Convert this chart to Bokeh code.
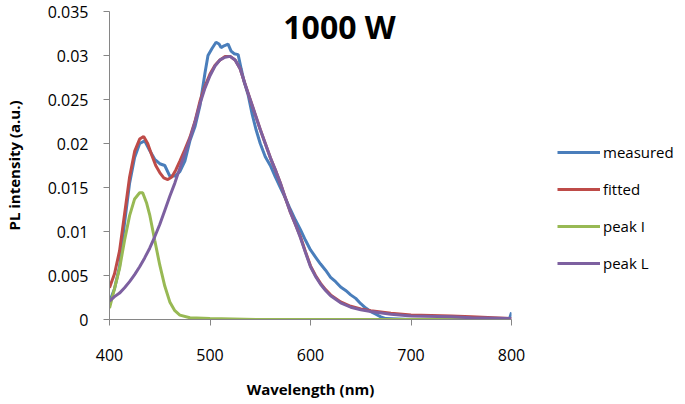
from bokeh.plotting import figure
from bokeh.layouts import row
from bokeh.models import (Range1d, FixedTicker, CustomJSTickFormatter, Label,
                          Legend, LegendItem)
from bokeh.embed import file_html
from bokeh.resources import INLINE

# ---- data ----
wl_meas = [400, 405, 410, 415, 420, 425, 430, 435, 440, 445, 450, 455, 460, 465,
           470, 475, 480, 485, 490, 495, 498, 502, 506, 509, 511, 514, 518, 521,
           524, 528, 531, 534, 538, 542, 546, 550, 555, 560, 565, 570, 575, 580,
           585, 590, 595, 600, 605, 610, 615, 620, 625, 630, 635, 640, 645, 650,
           655, 660, 665, 670, 675, 700, 750, 798, 800]
measured = [0.0020, 0.0035, 0.0060, 0.0110, 0.0155, 0.0184, 0.0200, 0.0203, 0.0192,
            0.0182, 0.0177, 0.0175, 0.0163, 0.0163, 0.0168, 0.0180, 0.0203, 0.0219,
            0.0243, 0.0280, 0.0300, 0.0308, 0.0315, 0.0313, 0.0309, 0.0311, 0.0313,
            0.0305, 0.0302, 0.0301, 0.0285, 0.0270, 0.0255, 0.0233, 0.0215, 0.0200,
            0.0185, 0.0175, 0.0162, 0.0150, 0.0138, 0.0125, 0.0113, 0.0102, 0.0090,
            0.0079, 0.0071, 0.0063, 0.0056, 0.0048, 0.0043, 0.0037, 0.0033, 0.0028,
            0.0024, 0.0018, 0.0013, 0.0009, 0.0006, 0.0003, 0.0001, 0.0000, 0.0000,
            0.0001, 0.0008]

wl_fit = [400, 405, 410, 415, 420, 425, 430, 434, 438, 442, 446, 450, 454, 458,
          462, 466, 470, 475, 480, 485, 490, 495, 500, 505, 510, 515, 520, 525,
          530, 535, 540, 545, 550, 555, 560, 565, 570, 575, 580, 585, 590, 595,
          600, 605, 610, 615, 620, 625, 630, 640, 650, 660, 680, 700, 740, 760, 800]
fitted = [0.0036, 0.0052, 0.0078, 0.0120, 0.0162, 0.0191, 0.0205, 0.0208, 0.0200,
          0.0187, 0.0175, 0.0167, 0.0161, 0.0159, 0.0162, 0.0170, 0.0180, 0.0193,
          0.0207, 0.0225, 0.0248, 0.0265, 0.0279, 0.0289, 0.0295, 0.0299, 0.0299,
          0.0295, 0.0285, 0.0267, 0.0250, 0.0233, 0.0216, 0.0200, 0.0184, 0.0170,
          0.0155, 0.0138, 0.0122, 0.0108, 0.0094, 0.0077, 0.0061, 0.0050, 0.0041,
          0.0034, 0.0028, 0.0024, 0.0020, 0.0015, 0.0012, 0.0010, 0.0007, 0.0005,
          0.0004, 0.0003, 0.0001]

wl_peak_i = [400, 405, 410, 415, 420, 425, 430, 433, 437, 440, 445, 450, 455, 460,
             465, 470, 480, 500, 550, 790]
peak_i = [0.0013, 0.0035, 0.0058, 0.0090, 0.0118, 0.0137, 0.0144, 0.0144, 0.0132,
          0.0119, 0.0090, 0.0062, 0.0038, 0.0020, 0.0010, 0.0005, 0.0002, 0.0001,
          0.0000, 0.0000]

wl_peak_l = [400, 405, 410, 415, 420, 425, 430, 435, 440, 445, 450, 455, 460, 465,
             470, 475, 480, 485, 490, 495, 500, 505, 510, 515, 520, 525, 530, 535,
             540, 545, 550, 555, 560, 565, 570, 575, 580, 585, 590, 595, 600, 605,
             610, 615, 620, 625, 630, 640, 650, 660, 680, 700, 740, 760, 800]
peak_l = [0.0021, 0.0026, 0.0030, 0.0036, 0.0043, 0.0051, 0.0060, 0.0070, 0.0081,
          0.0094, 0.0108, 0.0124, 0.0140, 0.0155, 0.0172, 0.0189, 0.0205, 0.0224,
          0.0245, 0.0263, 0.0277, 0.0288, 0.0295, 0.0298, 0.0299, 0.0295, 0.0285,
          0.0267, 0.0250, 0.0233, 0.0216, 0.0200, 0.0184, 0.0170, 0.0155, 0.0138,
          0.0122, 0.0108, 0.0093, 0.0076, 0.0060, 0.0049, 0.0040, 0.0033, 0.0027,
          0.0023, 0.0019, 0.0014, 0.0011, 0.0009, 0.0006, 0.0004, 0.0003, 0.0002,
          0.0001]

series_names = ["measured", "fitted", "peak I", "peak L"]
series_colors = ["#4A7EBB", "#BE4B48", "#98B954", "#7D60A0"]

x_ticks = [400, 500, 600, 700, 800]
y_ticks = [0, 0.005, 0.01, 0.015, 0.02, 0.025, 0.03, 0.035]

FONT = "Open Sans"
AXIS_GREY = "#868686"

H = 401
W_MAIN = 530
W_LEG = 150

p = figure(width=W_MAIN, height=H, output_backend="svg", toolbar_location=None,
           x_range=Range1d(400, 800), y_range=Range1d(0, 0.035),
           min_border_left=108, min_border_right=W_MAIN - 511, min_border_top=11,
           min_border_bottom=H - 319)
p.outline_line_color = None
p.xgrid.visible = False
p.ygrid.visible = False

series = [(wl_meas, measured), (wl_fit, fitted), (wl_peak_i, peak_i),
          (wl_peak_l, peak_l)]
for (xs, ys), c in zip(series, series_colors):
    p.line(xs, ys, line_color=c, line_width=3)

for ax in (p.xaxis[0], p.yaxis[0]):
    ax.axis_line_color = AXIS_GREY
    ax.major_tick_line_color = AXIS_GREY
    ax.minor_tick_line_color = None
    ax.major_tick_in = 0
    ax.major_tick_out = 6
    ax.major_label_text_font = FONT
    ax.major_label_text_font_size = "16px"
    ax.major_label_text_color = "#000000"
    ax.axis_label_text_font = FONT
    ax.axis_label_text_font_style = "bold"
    ax.axis_label_text_font_size = "15px"
    ax.axis_label_text_color = "#000000"

p.xaxis.ticker = FixedTicker(ticks=x_ticks)
p.yaxis.ticker = FixedTicker(ticks=y_ticks)
p.yaxis.formatter = CustomJSTickFormatter(
    code="return tick.toFixed(3).replace(/0+$/, '').replace(/\\.$/, '');")
p.xaxis.axis_label = "Wavelength (nm)"
p.yaxis.axis_label = "PL intensity (a.u.)"
p.xaxis.major_label_standoff = 23
p.xaxis.axis_label_standoff = 15
p.yaxis.major_label_standoff = 15
p.yaxis.axis_label_standoff = 21

title = Label(x=338 - 108, y=319 - 26, x_units="screen", y_units="screen",
              text="1000 W", text_font=FONT, text_font_style="bold",
              text_font_size="32px", text_align="center", text_baseline="middle",
              text_color="#000000")
p.add_layout(title)

# ---- legend panel (separate figure to the right of the chart) ----
pl = figure(width=W_LEG, height=H, output_backend="svg", toolbar_location=None,
            x_range=Range1d(0, 1), y_range=Range1d(0, 1),
            x_axis_type=None, y_axis_type=None,
            min_border_left=0, min_border_right=0, min_border_top=11,
            min_border_bottom=H - 319)
pl.outline_line_color = None
pl.xgrid.visible = False
pl.ygrid.visible = False
items = []
for name, c in zip(series_names, series_colors):
    r = pl.line([float("nan")], [float("nan")], line_color=c, line_width=3)
    items.append(LegendItem(label=name, renderers=[r]))

legend = Legend(items=items, location=(557 - W_MAIN, 319 - 273))
legend.border_line_color = None
legend.background_fill_alpha = 0
legend.padding = 0
legend.margin = 0
legend.spacing = 17
legend.glyph_height = 20
legend.glyph_width = 43
legend.label_height = 20
legend.label_standoff = 3
legend.label_text_font = FONT
legend.label_text_font_size = "15px"
legend.label_text_color = "#000000"
pl.add_layout(legend, "center")

layout = row(p, pl, spacing=0)
open("out.html", "w").write(file_html(layout, INLINE))
